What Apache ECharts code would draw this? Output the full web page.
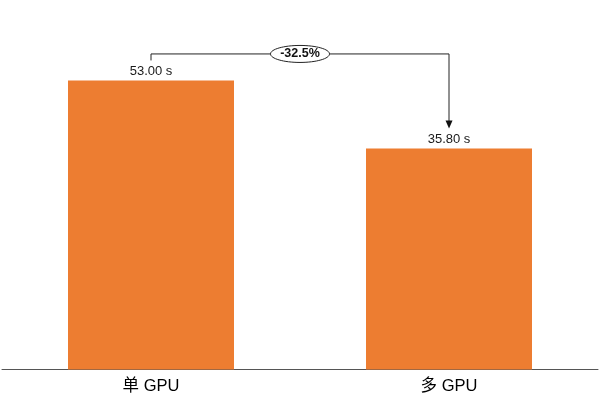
<!DOCTYPE html>
<html><head><meta charset="utf-8">
<script src="https://cdn.jsdelivr.net/npm/echarts@6/dist/echarts.min.js"></script>
<style>html,body{margin:0;padding:0;background:#fff}#c{width:600px;height:395px}</style>
</head><body><div id="c"></div>
<script>
const categories = ['单 GPU', '多 GPU'];
const times = [53.00, 35.80];
const unit = ' s';

const chart = echarts.init(document.getElementById('c'), null, {renderer: 'canvas'});
const FONT = '"Liberation Sans", "Noto Sans CJK SC", sans-serif';
chart.setOption({
  animation: false,
  grid: {left: 2, right: 2, top: 0, bottom: 23},
  xAxis: {
    type: 'category', data: categories,
    axisLine: {lineStyle: {color: '#555', width: 1}},
    axisTick: {show: false},
    axisLabel: {color: '#000', fontSize: 16.5, fontFamily: FONT, margin: 9}
  },
  yAxis: {
    type: 'log', logBase: 10, min: 10, max: 84.3, show: false,
    splitLine: {show: false}
  },
  series: [{
    type: 'bar', data: times, barWidth: 166, clip: true,
    itemStyle: {color: '#ED7D31'},
    label: {show: true, position: 'top', distance: 3, color: '#1a1a1a', fontSize: 13, fontFamily: FONT,
      formatter: p => p.value.toFixed(2) + unit}
  }]
});

const p1 = chart.convertToPixel({seriesIndex: 0}, [0, times[0]]);
const p2 = chart.convertToPixel({seriesIndex: 0}, [1, times[1]]);
const yb = Math.min(p1[1], p2[1]) - 26.5;
const legEnd = p1[1] - 20;
const tip = p2[1] - 20;
const pct = ((times[1] - times[0]) / times[0] * 100).toFixed(1) + '%';
const cx = (p1[0] + p2[0]) / 2;
const stroke = {stroke: '#222', lineWidth: 1, fill: null};
chart.setOption({
  graphic: [
    {type: 'polyline', shape: {points: [[p1[0], legEnd], [p1[0], yb], [p2[0], yb], [p2[0], tip - 7]]}, style: stroke, silent: true},
    {type: 'polygon', shape: {points: [[p2[0] - 3.5, tip - 8], [p2[0] + 3.5, tip - 8], [p2[0], tip]]}, style: {fill: '#111'}, silent: true},
    {type: 'ellipse', shape: {cx: cx, cy: yb, rx: 29.5, ry: 8.5}, style: {fill: '#fff', stroke: '#222', lineWidth: 1}, silent: true},
    {type: 'text', x: cx, y: yb, style: {text: pct, fill: '#111', font: '600 12.5px ' + FONT, align: 'center', verticalAlign: 'middle'}, silent: true}
  ]
});
</script></body></html>
